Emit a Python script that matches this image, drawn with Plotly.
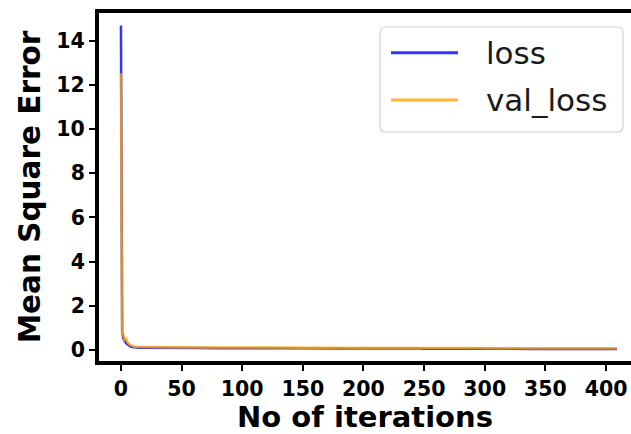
import plotly.graph_objects as go

# Training history: mean square error per epoch
loss = [
    14.69, 0.78, 0.52, 0.41, 0.33, 0.27, 0.22, 0.18, 0.15, 0.13,
    0.12, 0.11, 0.105, 0.10, 0.098, 0.096, 0.095, 0.094, 0.093, 0.092,
    0.091, 0.092, 0.090, 0.091, 0.089, 0.090, 0.091, 0.089, 0.090, 0.089,
    0.089, 0.090, 0.088, 0.089, 0.088, 0.089, 0.087, 0.088, 0.089, 0.087,
    0.088, 0.087, 0.088, 0.086, 0.087, 0.088, 0.086, 0.087, 0.086, 0.087,
    0.086, 0.087, 0.085, 0.086, 0.087, 0.085, 0.086, 0.085, 0.086, 0.084,
    0.085, 0.086, 0.084, 0.085, 0.084, 0.085, 0.083, 0.084, 0.085, 0.083,
    0.084, 0.083, 0.084, 0.082, 0.083, 0.084, 0.082, 0.083, 0.082, 0.083,
    0.082, 0.083, 0.081, 0.082, 0.083, 0.081, 0.082, 0.081, 0.082, 0.080,
    0.081, 0.082, 0.080, 0.081, 0.080, 0.081, 0.079, 0.080, 0.081, 0.079,
    0.080, 0.079, 0.080, 0.078, 0.079, 0.080, 0.078, 0.079, 0.078, 0.079,
    0.078, 0.079, 0.077, 0.078, 0.079, 0.077, 0.078, 0.077, 0.078, 0.076,
    0.077, 0.078, 0.076, 0.077, 0.076, 0.077, 0.075, 0.076, 0.077, 0.075,
    0.076, 0.075, 0.076, 0.074, 0.075, 0.076, 0.074, 0.075, 0.074, 0.075,
    0.074, 0.075, 0.073, 0.074, 0.075, 0.073, 0.074, 0.073, 0.074, 0.072,
    0.073, 0.074, 0.072, 0.073, 0.072, 0.073, 0.071, 0.072, 0.073, 0.071,
    0.072, 0.071, 0.072, 0.070, 0.071, 0.072, 0.070, 0.071, 0.070, 0.071,
    0.070, 0.071, 0.069, 0.070, 0.071, 0.069, 0.070, 0.069, 0.070, 0.068,
    0.069, 0.070, 0.068, 0.069, 0.068, 0.069, 0.067, 0.068, 0.069, 0.067,
    0.068, 0.067, 0.068, 0.066, 0.067, 0.068, 0.066, 0.067, 0.066, 0.067,
    0.066, 0.067, 0.065, 0.066, 0.067, 0.065, 0.066, 0.065, 0.066, 0.064,
    0.065, 0.066, 0.064, 0.065, 0.064, 0.065, 0.063, 0.064, 0.065, 0.063,
    0.064, 0.063, 0.064, 0.062, 0.063, 0.064, 0.062, 0.063, 0.062, 0.063,
    0.062, 0.063, 0.061, 0.062, 0.063, 0.061, 0.062, 0.061, 0.062, 0.060,
    0.061, 0.062, 0.060, 0.061, 0.060, 0.061, 0.059, 0.060, 0.061, 0.059,
    0.060, 0.059, 0.060, 0.058, 0.059, 0.060, 0.058, 0.059, 0.058, 0.059,
    0.058, 0.059, 0.057, 0.058, 0.059, 0.057, 0.058, 0.057, 0.058, 0.056,
    0.057, 0.058, 0.056, 0.057, 0.056, 0.057, 0.055, 0.056, 0.057, 0.055,
    0.056, 0.055, 0.056, 0.054, 0.055, 0.056, 0.054, 0.055, 0.054, 0.055,
    0.054, 0.055, 0.053, 0.054, 0.055, 0.053, 0.054, 0.053, 0.054, 0.052,
    0.053, 0.054, 0.052, 0.053, 0.052, 0.053, 0.051, 0.052, 0.053, 0.051,
    0.052, 0.051, 0.052, 0.050, 0.051, 0.052, 0.050, 0.051, 0.050, 0.051,
    0.050, 0.051, 0.049, 0.050, 0.051, 0.049, 0.050, 0.049, 0.050, 0.048,
    0.050, 0.049, 0.050, 0.048, 0.049, 0.050, 0.048, 0.049, 0.048, 0.049,
    0.048, 0.049, 0.047, 0.048, 0.049, 0.047, 0.048, 0.047, 0.048, 0.047,
    0.048, 0.047, 0.048, 0.046, 0.047, 0.048, 0.046, 0.047, 0.046, 0.047,
    0.046, 0.047, 0.045, 0.046, 0.047, 0.045, 0.046, 0.045, 0.046, 0.045,
    0.046, 0.045, 0.046, 0.044, 0.045, 0.046, 0.044, 0.045, 0.044, 0.045,
    0.044, 0.045, 0.043, 0.044, 0.045, 0.043, 0.044, 0.043, 0.044, 0.043,
    0.044, 0.043, 0.044, 0.042, 0.043, 0.044, 0.042, 0.043, 0.042, 0.043,
    0.042, 0.043, 0.041, 0.042, 0.043, 0.041, 0.042, 0.041, 0.042, 0.041,
]

val_loss = [
    12.53, 0.62, 0.68, 0.47, 0.52, 0.36, 0.30, 0.25, 0.21, 0.18,
    0.16, 0.15, 0.145, 0.14, 0.138, 0.135, 0.136, 0.133, 0.134, 0.131,
    0.132, 0.129, 0.131, 0.128, 0.130, 0.127, 0.129, 0.126, 0.128, 0.125,
    0.127, 0.124, 0.126, 0.123, 0.125, 0.122, 0.124, 0.121, 0.123, 0.122,
    0.121, 0.123, 0.120, 0.122, 0.119, 0.121, 0.118, 0.120, 0.119, 0.121,
    0.118, 0.120, 0.117, 0.119, 0.116, 0.118, 0.117, 0.119, 0.116, 0.118,
    0.115, 0.117, 0.116, 0.118, 0.115, 0.117, 0.114, 0.116, 0.115, 0.117,
    0.114, 0.116, 0.113, 0.115, 0.114, 0.116, 0.113, 0.115, 0.112, 0.114,
    0.113, 0.115, 0.112, 0.114, 0.111, 0.113, 0.112, 0.114, 0.111, 0.113,
    0.110, 0.112, 0.111, 0.113, 0.110, 0.112, 0.109, 0.111, 0.110, 0.112,
    0.109, 0.111, 0.108, 0.110, 0.109, 0.111, 0.108, 0.110, 0.107, 0.109,
    0.108, 0.110, 0.107, 0.109, 0.106, 0.108, 0.107, 0.109, 0.106, 0.108,
    0.105, 0.107, 0.106, 0.108, 0.105, 0.107, 0.104, 0.106, 0.105, 0.107,
    0.104, 0.106, 0.103, 0.105, 0.104, 0.106, 0.103, 0.105, 0.102, 0.104,
    0.103, 0.105, 0.102, 0.104, 0.101, 0.103, 0.102, 0.104, 0.101, 0.103,
    0.100, 0.102, 0.101, 0.103, 0.100, 0.102, 0.099, 0.101, 0.100, 0.102,
    0.099, 0.101, 0.098, 0.100, 0.099, 0.101, 0.098, 0.100, 0.097, 0.099,
    0.098, 0.100, 0.097, 0.099, 0.096, 0.098, 0.097, 0.099, 0.096, 0.098,
    0.095, 0.097, 0.096, 0.098, 0.095, 0.097, 0.094, 0.096, 0.095, 0.097,
    0.094, 0.096, 0.093, 0.095, 0.094, 0.096, 0.093, 0.095, 0.092, 0.094,
    0.093, 0.095, 0.092, 0.094, 0.091, 0.093, 0.092, 0.094, 0.091, 0.093,
    0.092, 0.094, 0.091, 0.093, 0.090, 0.092, 0.091, 0.093, 0.090, 0.092,
    0.091, 0.093, 0.090, 0.092, 0.089, 0.091, 0.090, 0.092, 0.089, 0.091,
    0.090, 0.092, 0.089, 0.091, 0.088, 0.090, 0.089, 0.091, 0.088, 0.090,
    0.089, 0.091, 0.088, 0.090, 0.087, 0.089, 0.088, 0.090, 0.087, 0.089,
    0.088, 0.090, 0.087, 0.089, 0.086, 0.088, 0.087, 0.089, 0.086, 0.088,
    0.087, 0.089, 0.086, 0.088, 0.085, 0.087, 0.086, 0.088, 0.085, 0.087,
    0.086, 0.088, 0.085, 0.087, 0.084, 0.086, 0.085, 0.087, 0.084, 0.086,
    0.085, 0.087, 0.084, 0.086, 0.083, 0.085, 0.084, 0.086, 0.083, 0.085,
    0.084, 0.086, 0.083, 0.085, 0.082, 0.084, 0.083, 0.085, 0.082, 0.084,
    0.083, 0.085, 0.082, 0.084, 0.081, 0.083, 0.082, 0.084, 0.081, 0.083,
    0.082, 0.084, 0.081, 0.083, 0.080, 0.082, 0.081, 0.083, 0.080, 0.082,
    0.081, 0.083, 0.080, 0.082, 0.079, 0.081, 0.080, 0.082, 0.079, 0.081,
    0.080, 0.082, 0.079, 0.081, 0.078, 0.080, 0.079, 0.081, 0.078, 0.080,
    0.079, 0.081, 0.078, 0.080, 0.077, 0.079, 0.078, 0.080, 0.077, 0.079,
    0.078, 0.080, 0.077, 0.079, 0.076, 0.078, 0.077, 0.079, 0.076, 0.078,
    0.077, 0.079, 0.076, 0.078, 0.075, 0.077, 0.076, 0.078, 0.075, 0.077,
    0.076, 0.078, 0.075, 0.077, 0.074, 0.076, 0.075, 0.077, 0.074, 0.076,
    0.075, 0.077, 0.074, 0.076, 0.073, 0.075, 0.074, 0.076, 0.073, 0.075,
    0.074, 0.076, 0.073, 0.075, 0.072, 0.074, 0.073, 0.075, 0.072, 0.074,
    0.073, 0.075, 0.072, 0.074, 0.071, 0.073, 0.072, 0.074, 0.071, 0.073,
]

epochs = list(range(len(loss)))
x_ticks = [0, 50, 100, 150, 200, 250, 300, 350, 400]
y_ticks = [0, 2, 4, 6, 8, 10, 12, 14]

series_names = ["loss", "val_loss"]
series_colors = ["rgba(0,0,255,0.8)", "rgba(255,165,0,0.8)"]

W, H = 631, 434
L, R, T, B = 99, 0, 13, 73
FONT = "DejaVu Sans"

fig = go.Figure()
for name, ys, col in zip(series_names, [loss, val_loss], series_colors):
    fig.add_trace(go.Scatter(
        x=epochs, y=ys, mode="lines", name=name,
        line=dict(color=col, width=2.5), showlegend=False,
    ))

axis_common = dict(
    showgrid=False, zeroline=False, showline=True, linecolor="black",
    linewidth=4, ticks="outside", ticklen=6, tickwidth=1.5, tickcolor="black",
    tickfont=dict(family=FONT, size=20.5, color="black", weight="bold"),
)

fig.update_layout(
    width=W, height=H,
    margin=dict(l=L, r=R, t=T, b=B, pad=0),
    paper_bgcolor="white", plot_bgcolor="white",
    xaxis=dict(
        range=[-18.1, 420.6], tickvals=x_ticks, mirror=True,
        title=dict(text="No of iterations", standoff=10,
                   font=dict(family=FONT, size=29, color="black", weight="bold")),
        **axis_common,
    ),
    yaxis=dict(
        range=[-0.5, 15.26], tickvals=y_ticks,
        title=dict(text="Mean Square Error", standoff=8,
                   font=dict(family=FONT, size=29.5, color="black", weight="bold")),
        **axis_common,
    ),
)


# Legend drawn in paper coordinates (fractions of the plotting area)
def px_x(p):
    return (p - L) / (W - L - R)


def px_y(p):
    return (H - B - p) / (H - T - B)


lx0, lx1, ly0, ly1, rad = 380, 623, 27, 132, 6
path = (
    f"M {px_x(lx0 + rad)},{px_y(ly0)} L {px_x(lx1 - rad)},{px_y(ly0)} "
    f"Q {px_x(lx1)},{px_y(ly0)} {px_x(lx1)},{px_y(ly0 + rad)} "
    f"L {px_x(lx1)},{px_y(ly1 - rad)} "
    f"Q {px_x(lx1)},{px_y(ly1)} {px_x(lx1 - rad)},{px_y(ly1)} "
    f"L {px_x(lx0 + rad)},{px_y(ly1)} "
    f"Q {px_x(lx0)},{px_y(ly1)} {px_x(lx0)},{px_y(ly1 - rad)} "
    f"L {px_x(lx0)},{px_y(ly0 + rad)} "
    f"Q {px_x(lx0)},{px_y(ly0)} {px_x(lx0 + rad)},{px_y(ly0)} Z"
)
fig.add_shape(type="path", path=path, xref="paper", yref="paper",
              fillcolor="rgba(255,255,255,0.8)",
              line=dict(color="rgba(204,204,204,0.9)", width=1.2))

for i, (name, col) in enumerate(zip(series_names, series_colors)):
    yy = 52.7 + i * 47.3
    fig.add_shape(type="line", xref="paper", yref="paper",
                  x0=px_x(391), x1=px_x(458), y0=px_y(yy), y1=px_y(yy),
                  line=dict(color=col, width=3))
    fig.add_annotation(x=px_x(484), y=px_y(yy), xref="paper", yref="paper",
                       text=name, showarrow=False, xanchor="left",
                       yanchor="middle",
                       font=dict(family=FONT, size=31, color="#1a1a1a"))

fig.write_html("out.html")
